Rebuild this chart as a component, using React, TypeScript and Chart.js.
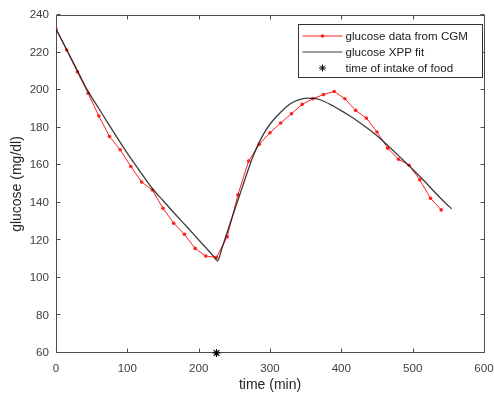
import { useEffect, useRef } from "react";
import { Chart, registerables } from "chart.js";

Chart.register(...registerables);

// ---- data ----
const cgmTime = [0, 15, 30, 45, 60, 75, 90, 105, 120, 135, 150, 165, 180, 195, 210, 225, 240, 255, 270, 285, 300, 315, 330, 345, 360, 375, 390, 405, 420, 435, 450, 465, 480, 495, 510, 525, 540];
const cgmGlucose = [232.6, 221.4, 209.7, 198.3, 186.3, 175.3, 168.2, 159.3, 151.1, 146.8, 137.1, 129.1, 123.2, 115.7, 111.6, 110.9, 121.9, 144.2, 162.2, 171.2, 177.3, 182.5, 187.4, 192.4, 195.4, 197.6, 199.3, 195.4, 189.2, 185.1, 177.7, 169.1, 163.2, 160.0, 152.2, 142.4, 136.2];

const fitTime = [0, 15, 30, 45, 60, 75, 90, 105, 120, 135, 150, 165, 180, 195, 210, 220, 226.6, 232, 238, 245, 252, 260, 268, 276, 285, 294, 303, 316, 328, 340, 352, 362, 372, 385, 398, 411, 424, 439, 454, 470, 485, 501, 517, 533, 547, 554.7];
const fitGlucose = [232.6, 221.5, 210.4, 199.3, 190.2, 181.1, 172.2, 163.6, 155.5, 147.6, 141.2, 134.8, 128.6, 122.4, 116.1, 111.9, 109.1, 115.0, 122.0, 130.0, 138.0, 147.0, 156.0, 164.5, 172.3, 178.6, 183.3, 188.6, 192.6, 194.8, 195.7, 195.6, 194.6, 192.3, 189.5, 186.5, 183.2, 179.0, 174.4, 168.8, 163.3, 157.5, 151.3, 144.8, 139.5, 136.8];

const foodTime = [225];
const foodGlucose = [60];

const xTicks = [0, 100, 200, 300, 400, 500, 600];
const yTicks = [60, 80, 100, 120, 140, 160, 180, 200, 220, 240];

const xLabel = "time (min)";
const yLabel = "glucose (mg/dl)";
const legendLabels = ["glucose data from CGM", "glucose XPP fit", "time of intake of food"];

const FONT = "'Liberation Sans', Arial, Helvetica, sans-serif";
const AXIS_COLOR = "#4d4d4d";
const TEXT_COLOR = "#404040";
const RED = "#ff2020";
const FIT = "rgba(25,25,25,0.85)";
const TICK_SIZE = 11.6;
const TITLE_SIZE = 14;

const matlabAxes = {
  id: "matlabAxes",
  beforeDatasetsDraw(chart: any) {
    const { ctx, chartArea: a, scales } = chart;
    const L = a.left + 0.5, R = a.right + 0.5, T = a.top + 0.5, B = a.bottom - 0.5;
    const tl = 4;
    ctx.save();
    ctx.strokeStyle = AXIS_COLOR;
    ctx.lineWidth = 1;
    ctx.beginPath();
    ctx.rect(L, T, R - L, B - T);
    for (const v of xTicks) {
      const px = Math.round(scales.x.getPixelForValue(v)) + 0.5;
      ctx.moveTo(px, B); ctx.lineTo(px, B - tl);
      ctx.moveTo(px, T); ctx.lineTo(px, T + tl);
    }
    for (const v of yTicks) {
      const py = Math.round(scales.y.getPixelForValue(v)) - 0.5;
      ctx.moveTo(L, py); ctx.lineTo(L + tl, py);
      ctx.moveTo(R, py); ctx.lineTo(R - tl, py);
    }
    ctx.stroke();
    ctx.restore();
  },
};

const matlabLegend = {
  id: "matlabLegend",
  afterDatasetsDraw(chart: any) {
    const { ctx, chartArea: a } = chart;
    const right = a.right - 1.5;
    const left = right - 184;
    const top = a.top + 9.5;
    const h = 53;
    ctx.save();
    ctx.fillStyle = "#ffffff";
    ctx.fillRect(left, top, right - left, h);
    ctx.strokeStyle = "#333333";
    ctx.lineWidth = 1;
    ctx.strokeRect(left, top, right - left, h);
    const rows = [top + 11.5, top + 27.5, top + 43.5];
    const x0 = left + 4, x1 = left + 44, xm = (x0 + x1) / 2;
    // row 1: red line with dot
    ctx.strokeStyle = RED;
    ctx.lineWidth = 1;
    ctx.beginPath(); ctx.moveTo(x0, rows[0]); ctx.lineTo(x1, rows[0]); ctx.stroke();
    ctx.fillStyle = RED;
    ctx.beginPath(); ctx.arc(xm, rows[0], 1.8, 0, Math.PI * 2); ctx.fill();
    // row 2: black line
    ctx.strokeStyle = FIT;
    ctx.lineWidth = 1.2;
    ctx.beginPath(); ctx.moveTo(x0, rows[1]); ctx.lineTo(x1, rows[1]); ctx.stroke();
    // row 3: star
    ctx.strokeStyle = "#000";
    ctx.lineWidth = 1;
    const r = 3.5;
    ctx.beginPath();
    ctx.moveTo(xm - r, rows[2]); ctx.lineTo(xm + r, rows[2]);
    ctx.moveTo(xm, rows[2] - r); ctx.lineTo(xm, rows[2] + r);
    const d = r * Math.SQRT1_2;
    ctx.moveTo(xm - d, rows[2] - d); ctx.lineTo(xm + d, rows[2] + d);
    ctx.moveTo(xm - d, rows[2] + d); ctx.lineTo(xm + d, rows[2] - d);
    ctx.stroke();
    // texts
    ctx.fillStyle = "#1a1a1a";
    ctx.font = `${TICK_SIZE}px ${FONT}`;
    ctx.textAlign = "left";
    ctx.textBaseline = "middle";
    legendLabels.forEach((t, i) => ctx.fillText(t, x1 + 3, rows[i] + 0.5));
    ctx.restore();
  },
};

export default function App() {
  const ref = useRef<HTMLCanvasElement | null>(null);

  useEffect(() => {
    if (!ref.current) return;
    const chart = new Chart(ref.current, {
      type: "line",
      data: {
        datasets: [
          {
            label: legendLabels[0],
            data: cgmTime.map((t, i) => ({ x: t, y: cgmGlucose[i] })),
            borderColor: RED,
            backgroundColor: RED,
            borderWidth: 1,
            pointRadius: 1.8,
            pointBorderWidth: 0,
            pointBackgroundColor: RED,
            tension: 0,
            order: 3,
          },
          {
            label: legendLabels[1],
            data: fitTime.map((t, i) => ({ x: t, y: fitGlucose[i] })),
            borderColor: FIT,
            borderWidth: 1.3,
            pointRadius: 0,
            cubicInterpolationMode: "monotone",
            order: 2,
          },
          {
            label: legendLabels[2],
            data: foodTime.map((t, i) => ({ x: t, y: foodGlucose[i] })),
            showLine: false,
            pointStyle: "star",
            pointRadius: 4,
            pointBorderColor: "#000",
            pointBorderWidth: 1.2,
            borderColor: "#000",
            clip: false,
            order: 1,
          } as any,
        ],
      },
      options: {
        animation: false,
        responsive: false,
        events: [],
        layout: { padding: { top: 15, right: 10, left: 0, bottom: 0 } },
        plugins: { legend: { display: false }, tooltip: { enabled: false } },
        scales: {
          x: {
            type: "linear",
            min: 0,
            max: 600,
            afterBuildTicks: (s: any) => { s.ticks = xTicks.map((v) => ({ value: v })); },
            afterFit: (s: any) => { s.height = 43; s.paddingRight = 0; s.paddingLeft = 0; },
            grid: { display: false, drawTicks: false },
            border: { display: false },
            ticks: { color: TEXT_COLOR, font: { size: TICK_SIZE, family: FONT }, padding: 8.5, maxRotation: 0, autoSkip: false },
            title: { display: true, text: xLabel, color: "#262626", font: { size: TITLE_SIZE, family: FONT }, padding: { top: 0, bottom: 2.6 } },
          },
          y: {
            type: "linear",
            min: 60,
            max: 240,
            afterBuildTicks: (s: any) => { s.ticks = yTicks.map((v) => ({ value: v })); },
            afterFit: (s: any) => { s.width = 56; s.paddingTop = 0; s.paddingBottom = 0; },
            grid: { display: false, drawTicks: false },
            border: { display: false },
            ticks: { color: TEXT_COLOR, font: { size: TICK_SIZE, family: FONT }, padding: 7, autoSkip: false },
            title: { display: true, text: yLabel, color: "#262626", font: { size: TITLE_SIZE, family: FONT }, padding: { top: 9, bottom: 0 } },
          },
        },
      },
      plugins: [matlabAxes, matlabLegend],
    });
    return () => chart.destroy();
  }, []);

  return (
    <div style={{ position: "absolute", left: 0, top: 0, width: 494, height: 396, background: "#fff" }}>
      <canvas ref={ref} width={494} height={396} style={{ display: "block" }} />
    </div>
  );
}
